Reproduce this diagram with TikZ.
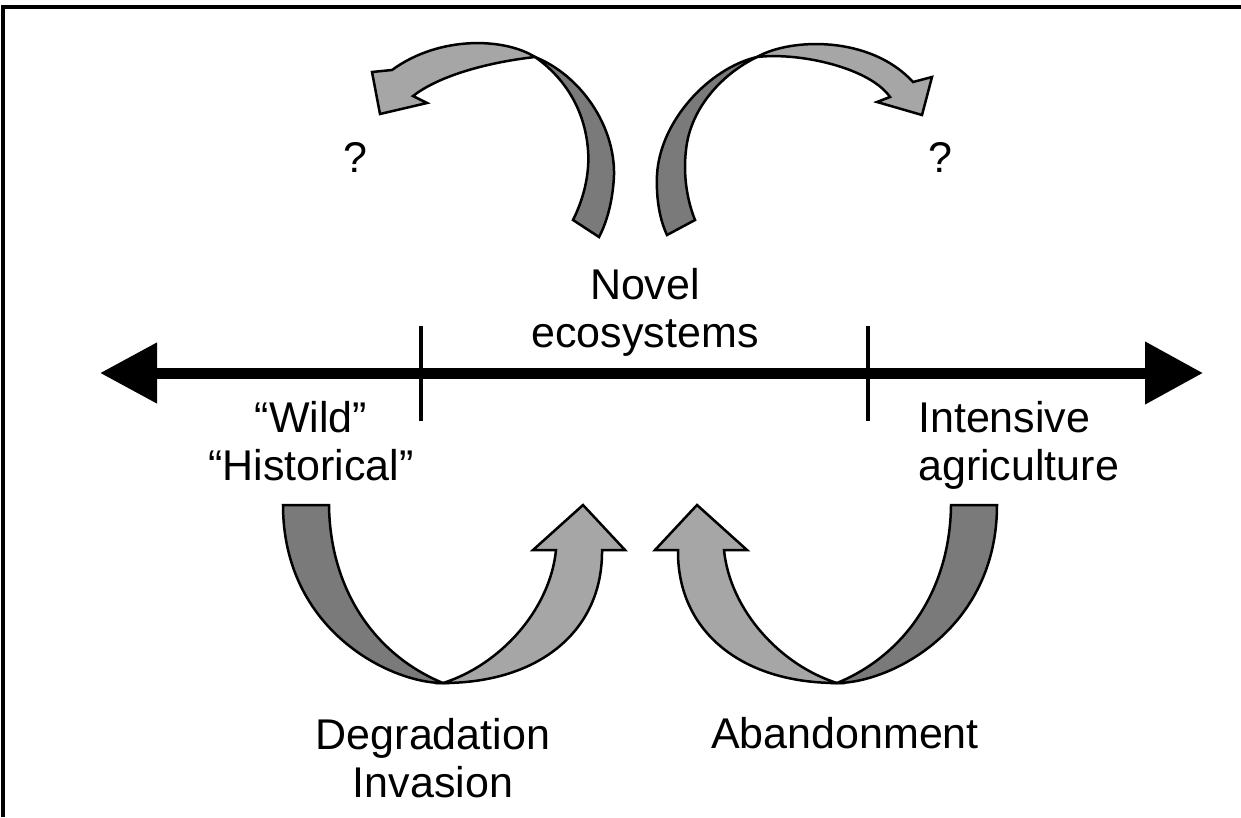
\documentclass[tikz,border=0pt]{standalone}
\usepackage{fontspec}
\setmainfont{Liberation Sans}
\usetikzlibrary{arrows.meta}
\definecolor{backband}{gray}{0.48}
\definecolor{frontband}{gray}{0.65}
\begin{document}
\begin{tikzpicture}[x=1pt, y=-1pt,
    txt/.style={font=\fontsize{43}{48}\selectfont, inner sep=0pt},
    band/.style={draw=black, line width=2.5pt, line join=miter},
    back/.style={band, fill=backband},
    front/.style={band, fill=frontband},
    axis/.style={line width=11pt, {Triangle[length=57pt,width=58pt]}-{Triangle[length=58pt,width=60pt]}},
    tick/.style={line width=4.5pt}]
    \useasboundingbox (0,0) rectangle (1241,817);
    \draw[line width=4pt] (3,817) -- (3,7) -- (1241,7);

    \coordinate (wildend) at (100,373);
    \coordinate (intend) at (1203,373);
    \draw[axis] (wildend) -- (intend);
    \draw[tick] (421,326) -- (421,421);
    \draw[tick] (868,326) -- (868,421);

    \node[txt, align=center] (novel) at (645,312) {Novel\\ecosystems};
    \node[txt, align=center] (wild) at (311,441) {“Wild”\\“Historical”};
    \node[txt, align=left, anchor=west] (intensive) at (918,445) {Intensive\\agriculture};
    \node[txt, align=center] (degradation) at (433,758) {Degradation\\Invasion};
    \node[txt, anchor=base] (abandonment) at (845,748) {Abandonment};
    \node[txt, anchor=base] (qleft) at (355,172) {?};
    \node[txt, anchor=base] (qright) at (940,172) {?};

    \draw[back] (535,57) .. controls (580,75) and (615,125) .. (614,175)
        .. controls (613,200) and (607,222) .. (599,237) -- (573,220)
        .. controls (583,200) and (590,175) .. (588,150)
        .. controls (585,110) and (565,78) .. (535,57) -- cycle;
    \draw[front] (535,57) .. controls (505,38) and (440,35) .. (392,70)
        -- (372,72) -- (380,114) -- (427,103) -- (413,96)
        .. controls (440,75) and (490,62) .. (535,57) -- cycle;

    \draw[back] (757,57) .. controls (710,68) and (660,120) .. (657,175)
        .. controls (656,200) and (660,220) .. (667,235) -- (695,220)
        .. controls (687,200) and (683,175) .. (686,150)
        .. controls (690,110) and (720,75) .. (757,57) -- cycle;
    \draw[front] (757,57) .. controls (790,38) and (870,35) .. (913,82)
        -- (932,77) -- (922,115) -- (877,102) -- (890,97)
        .. controls (870,68) and (800,52) .. (757,57) -- cycle;

    \foreach \dx/\sx in {0/1, 1280/-1} {
        \begin{scope}[xshift=\dx pt, xscale=\sx]
            \draw[back] (283,505) -- (329,505)
                .. controls (330,590) and (375,655) .. (443,683)
                .. controls (390,683) and (283,630) .. (283,505) -- cycle;
            \draw[front] (443,683) .. controls (540,683) and (603,630) .. (602,550)
                -- (625,550) -- (583,505) -- (533,550) -- (556,550)
                .. controls (550,610) and (500,665) .. (443,683) -- cycle;
        \end{scope}
    }
\end{tikzpicture}
\end{document}
